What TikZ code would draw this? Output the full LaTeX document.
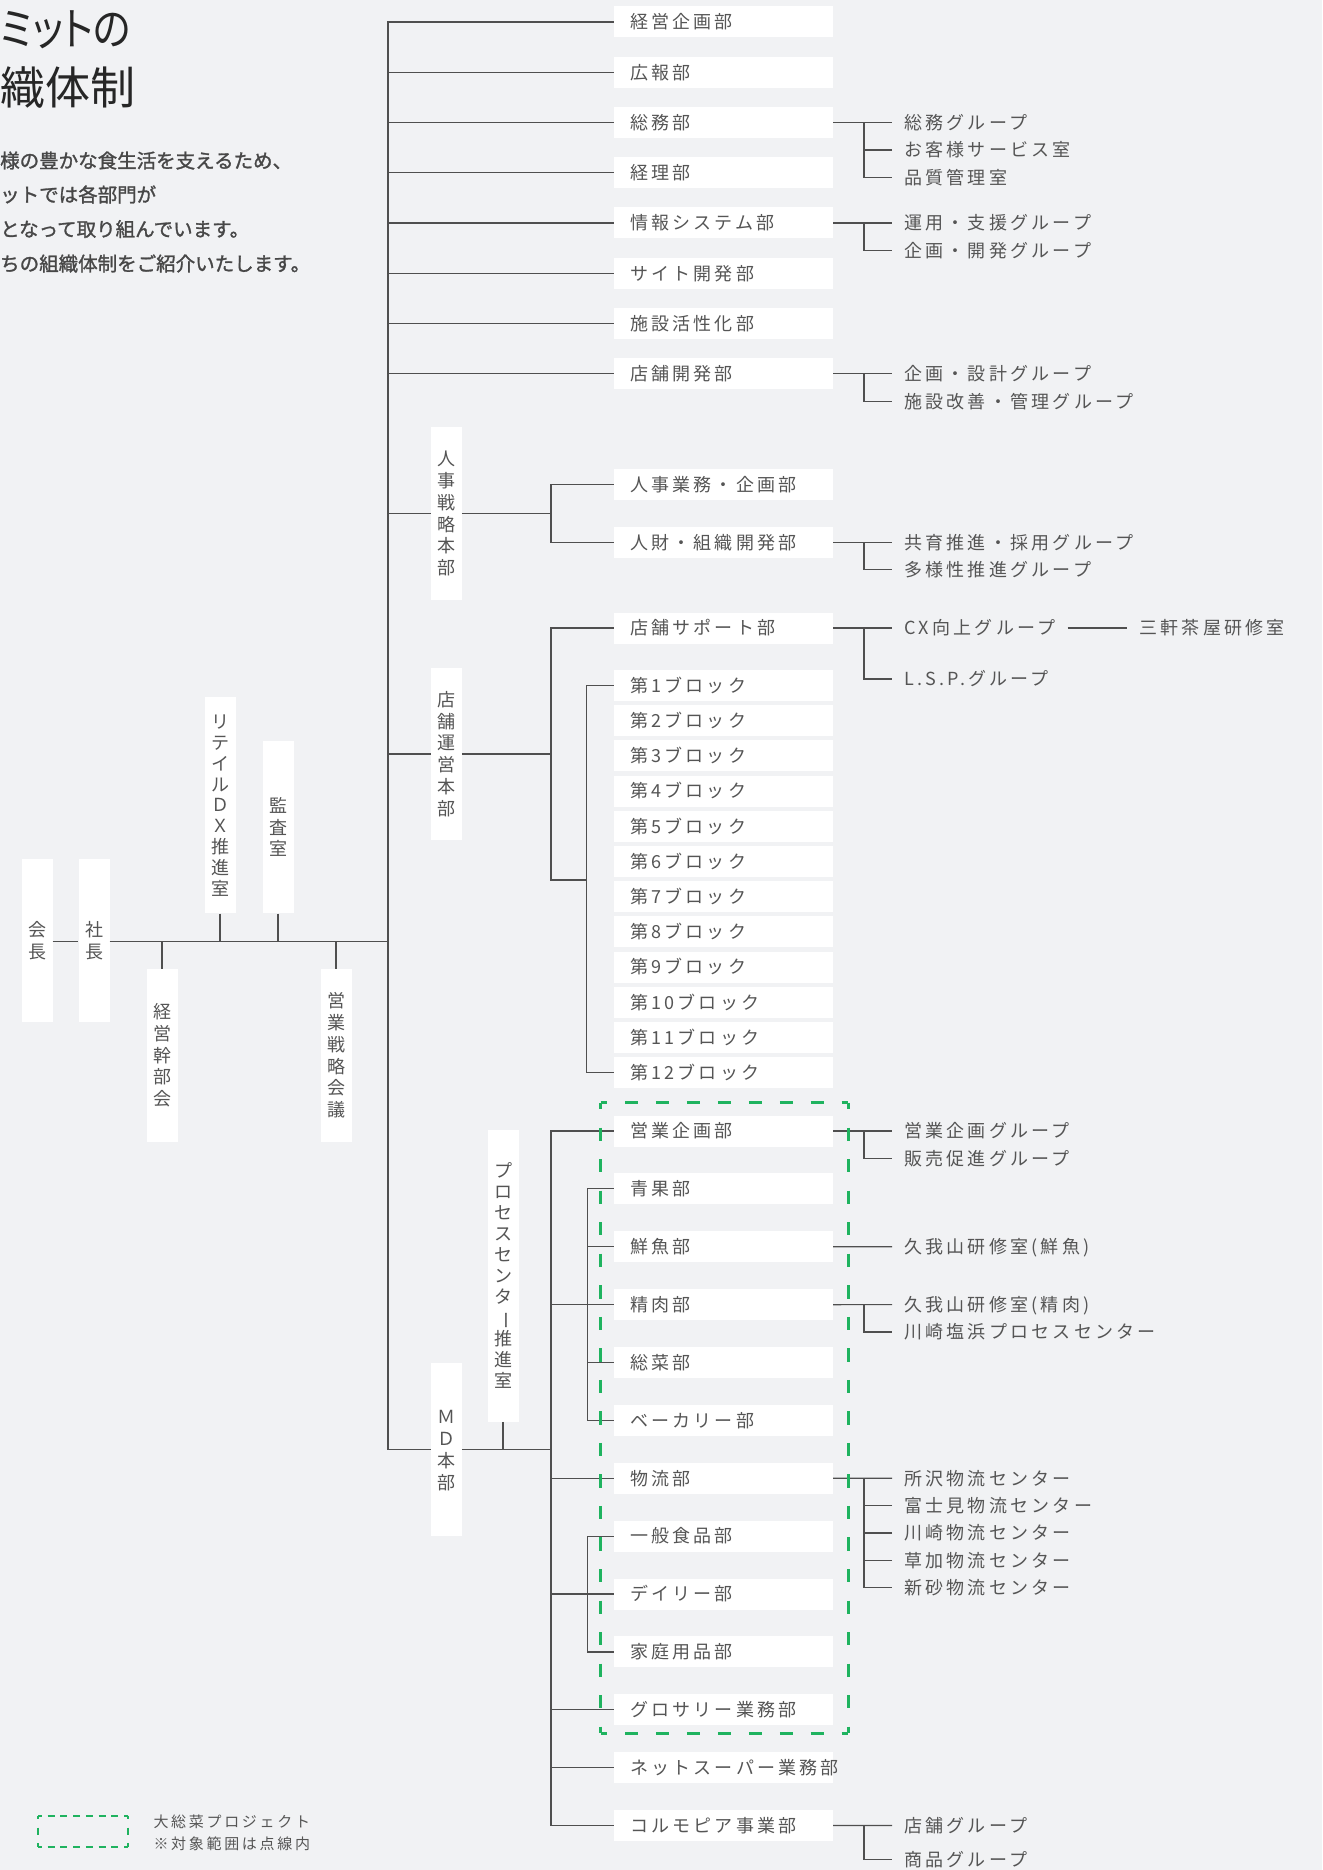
\documentclass[tikz,border=0pt]{standalone}
\usepackage{fontspec}
\usepackage{graphicx}
\newfontfamily\jp[LetterSpace=18]{Noto Sans CJK JP}
\newfontfamily\jpn{Noto Sans CJK JP}
\newfontfamily\jpm[FakeBold=1.4]{Noto Sans CJK JP}
\newfontfamily\jpt[RawFeature=+palt]{Noto Sans CJK JP}
\definecolor{bg}{HTML}{F1F2F4}
\definecolor{ln}{HTML}{4F4F4F}
\definecolor{tx}{HTML}{555555}
\definecolor{grn}{HTML}{1FB35F}
\newcommand\cs{\rule[-2.2pt]{0pt}{18pt}}
\newcommand\vbar{\rotatebox[origin=c]{-90}{ー}}
\tikzset{
  box/.style={fill=white, minimum width=219pt, minimum height=31pt, text width=187pt,
    inner xsep=16pt, inner ysep=0pt, align=left, font=\jp\fontsize{18}{21.5}\selectfont,
    text=tx, text height=15.8pt, text depth=2.2pt},
  vbox/.style={fill=white, minimum width=31pt, inner sep=0pt, align=center,
    font=\jpn\fontsize{18}{21.8}\selectfont, text=tx},
  sub/.style={anchor=west, inner xsep=12pt, inner ysep=0pt, font=\jp\fontsize{18}{21.5}\selectfont,
    text=tx, text height=15.8pt, text depth=2.2pt},
  conn/.style={draw=ln, line width=1.2pt},
  gh/.style={draw=grn, line width=2.6pt, dash pattern=on 13.3pt off 17.65pt, dash phase=6.65pt},
  gv/.style={draw=grn, line width=2.6pt, dash pattern=on 13.3pt off 18.23pt, dash phase=6.65pt},
  lh/.style={draw=grn, line width=2pt, dash pattern=on 7pt off 5.77pt, dash phase=3.5pt},
  lv/.style={draw=grn, line width=2pt, dash pattern=on 7pt off 8.5pt, dash phase=3.5pt},
  desc/.style={anchor=west, inner sep=0pt, font=\jpm\fontsize{19.5}{23}\selectfont,
    text=black!72, text height=17.2pt, text depth=2.3pt},
  ttl/.style={anchor=west, inner sep=0pt, font=\jpt\fontsize{45}{50}\selectfont,
    text=black!85, text height=39.6pt, text depth=5.4pt},
  leg/.style={anchor=west, inner sep=0pt, font=\jp\fontsize{15}{18}\selectfont,
    text=tx, text height=13.2pt, text depth=1.8pt}
}
\begin{document}
\begin{tikzpicture}[x=1pt,y=-1pt]
\fill[bg] (0,0) rectangle (1322,1870);
\useasboundingbox (0,0) rectangle (1322,1870);

% title and description
\node[ttl] (t1) at (0,28) {\scalebox{0.87}[1]{ミットの}};
\node[ttl] (t2) at (0,87.5) {織体制};
\node[desc] (d1) at (0,160.5) {様の豊かな食生活を支えるため、};
\node[desc] (d2) at (0,194.5) {ットでは各部門が};
\node[desc] (d3) at (0,229) {となって取り組んでいます。};
\node[desc] (d4) at (0,263.5) {ちの組織体制をご紹介いたします。};

% left vertical boxes
\node[vbox, minimum height=162.7pt] (kaicho) at (37,940.3) {\cs 会\\\cs 長};
\node[vbox, minimum height=162.7pt] (shacho) at (94,940.3) {\cs 社\\\cs 長};
\node[vbox, minimum height=216.6pt, font=\jpn\fontsize{18}{20.8}\selectfont] (retail) at (220,805)
  {\cs リ\\\cs テ\\\cs イ\\\cs ル\\\cs Ｄ\\\cs Ｘ\\\cs 推\\\cs 進\\\cs 室};
\node[vbox, minimum height=172.3pt] (kansa) at (278,827.2) {\cs 監\\\cs 査\\\cs 室};
\node[vbox, minimum height=172.7pt] (keiei) at (162,1055.3) {\cs 経\\\cs 営\\\cs 幹\\\cs 部\\\cs 会};
\node[vbox, minimum height=172.7pt] (eigyo) at (336,1055.3) {\cs 営\\\cs 業\\\cs 戦\\\cs 略\\\cs 会\\\cs 議};
\node[vbox, minimum height=173.3pt] (jhq) at (446.2,513.3) {\cs 人\\\cs 事\\\cs 戦\\\cs 略\\\cs 本\\\cs 部};
\node[vbox, minimum height=172.8pt] (thq) at (446.2,754) {\cs 店\\\cs 舗\\\cs 運\\\cs 営\\\cs 本\\\cs 部};
\node[vbox, minimum height=172.4pt] (mhq) at (446.2,1449.5) {\cs Ｍ\\\cs Ｄ\\\cs 本\\\cs 部};
\node[vbox, minimum height=291.7pt, font=\jpn\fontsize{18}{20.9}\selectfont] (proc) at (503,1275.8)
  {\cs プ\\\cs ロ\\\cs セ\\\cs ス\\\cs セ\\\cs ン\\\cs タ\\\cs \vbar\\\cs 推\\\cs 進\\\cs 室};

% main boxes
\node[box] (b1) at (723.5,22) {経営企画部};
\node[box] (b2) at (723.5,72.25) {広報部};
\node[box] (b3) at (723.5,122.5) {総務部};
\node[box] (b4) at (723.5,172.75) {経理部};
\node[box] (b5) at (723.5,223) {情報システム部};
\node[box] (b6) at (723.5,273.25) {サイト開発部};
\node[box] (b7) at (723.5,323.5) {施設活性化部};
\node[box] (b8) at (723.5,373.75) {店舗開発部};
\node[box] (j1) at (723.5,484.7) {人事業務・企画部};
\node[box] (j2) at (723.5,542.5) {人財・組織開発部};
\node[box] (ts) at (723.5,628) {店舗サポート部};
\foreach \i in {1,...,12}
  \node[box] (bl\i) at (723.5,{685.5+35.2*(\i-1)}) {第\i{}ブロック};
\foreach \k/\lbl in {0/営業企画部,1/青果部,2/鮮魚部,3/精肉部,4/総菜部,5/ベーカリー部,6/物流部,
   7/一般食品部,8/デイリー部,9/家庭用品部,10/グロサリー業務部,11/ネットスーパー業務部,12/コルモピア事業部}
  \node[box] (m\k) at (723.5,{1131+57.88*\k}) {\lbl};

% sub groups
\node[sub] (g1a) at (892,122.5) {総務グループ};
\node[sub] (g1b) at (892,150) {お客様サービス室};
\node[sub] (g1c) at (892,177.5) {品質管理室};
\node[sub] (g2a) at (892,223) {運用・支援グループ};
\node[sub] (g2b) at (892,250.7) {企画・開発グループ};
\node[sub] (g3a) at (892,373.75) {企画・設計グループ};
\node[sub] (g3b) at (892,401.3) {施設改善・管理グループ};
\node[sub] (g4a) at (892,542.5) {共育推進・採用グループ};
\node[sub] (g4b) at (892,569.8) {多様性推進グループ};
\node[sub] (g5a) at (892,628) {CX向上グループ};
\node[sub] (g5b) at (892,679) {L.S.P.グループ};
\node[sub] (g5c) at (1127.3,628) {三軒茶屋研修室};
\node[sub] (g6a) at (892,1131) {営業企画グループ};
\node[sub] (g6b) at (892,1158.5) {販売促進グループ};
\node[sub] (g7a) at (892,1246.8) {久我山研修室(鮮魚)};
\node[sub] (g8a) at (892,1304.6) {久我山研修室(精肉)};
\node[sub] (g8b) at (892,1332) {川崎塩浜プロセスセンター};
\node[sub] (g9a) at (892,1478.2) {所沢物流センター};
\node[sub] (g9b) at (892,1505.6) {富士見物流センター};
\node[sub] (g9c) at (892,1533) {川崎物流センター};
\node[sub] (g9d) at (892,1560.4) {草加物流センター};
\node[sub] (g9e) at (892,1587.8) {新砂物流センター};
\node[sub] (g10a) at (892,1825.5) {店舗グループ};
\node[sub] (g10b) at (892,1859.5) {商品グループ};

% coordinates
\coordinate (tr) at (388,941.3);
\coordinate (jx) at (551,513.3);
\coordinate (tA) at (551,880);
\coordinate (tB) at (586.7,880);
\coordinate (mA) at (551,1449.5);
\coordinate (sB) at (587.3,1131);
\coordinate (gx) at (864,0);

% top-level connectors
\draw[conn] (kaicho.east |- tr) -- (shacho.west |- tr);
\draw[conn] (shacho.east |- tr) -- (tr);
\draw[conn] (retail.south) -- (retail.south |- tr);
\draw[conn] (kansa.south) -- (kansa.south |- tr);
\draw[conn] (keiei.north) -- (keiei.north |- tr);
\draw[conn] (eigyo.north) -- (eigyo.north |- tr);
\draw[conn] (b1.west) -| (tr) |- (mhq.west);
\foreach \n in {b2,b3,b4,b5,b6,b7,b8,jhq,thq}
  \draw[conn] (\n.west) -- (\n.west -| tr);

% HR
\draw[conn] (jhq.east) -- (jx);
\draw[conn] (j1.west) -| (jx) |- (j2.west);
% stores
\draw[conn] (thq.east) -- (thq.east -| tA);
\draw[conn] (ts.west) -| (tA) -- (tB);
\draw[conn] (bl1.west) -| (tB) |- (bl12.west);
% MD
\draw[conn] (mhq.east) -- (mA);
\draw[conn] (proc.south) -- (proc.south |- mA);
\draw[conn] (m0.west) -| (mA) |- (m12.west);
\foreach \k in {3,6,8,10,11}
  \draw[conn] (m\k.west) -- (m\k.west -| mA);
\draw[conn] (m1.west) -- (m1.west -| sB) |- (m5.west);
\draw[conn] (m2.west) -- (m2.west -| sB);
\draw[conn] (m4.west) -- (m4.west -| sB);
\draw[conn] (m7.west) -- (m7.west -| sB) |- (m9.west);

% right side
\draw[conn] (b3.east) -- (g1a.west);
\draw[conn] (g1a.west -| gx) |- (g1c.west);
\draw[conn] (g1b.west) -- (g1b.west -| gx);
\draw[conn] (b5.east) -- (g2a.west);
\draw[conn] (g2a.west -| gx) |- (g2b.west);
\draw[conn] (b8.east) -- (g3a.west);
\draw[conn] (g3a.west -| gx) |- (g3b.west);
\draw[conn] (j2.east) -- (g4a.west);
\draw[conn] (g4a.west -| gx) |- (g4b.west);
\draw[conn] (ts.east) -- (g5a.west);
\draw[conn] (g5a.west -| gx) |- (g5b.west);
\draw[conn] (g5a.east) -- (g5c.west);
\draw[conn] (m0.east) -- (g6a.west);
\draw[conn] (g6a.west -| gx) |- (g6b.west);
\draw[conn] (m2.east) -- (g7a.west);
\draw[conn] (m3.east) -- (g8a.west);
\draw[conn] (g8a.west -| gx) |- (g8b.west);
\draw[conn] (m6.east) -- (g9a.west);
\draw[conn] (g9a.west -| gx) |- (g9e.west);
\foreach \n in {g9b,g9c,g9d}
  \draw[conn] (\n.west) -- (\n.west -| gx);
\draw[conn] (m12.east) -- (g10a.west);
\draw[conn] (g10a.west -| gx) |- (g10b.west);

% project dashed frame
\coordinate (pNW) at (600.7,1102.7);
\coordinate (pNE) at (848.3,1102.7);
\coordinate (pSW) at (600.7,1733.3);
\coordinate (pSE) at (848.3,1733.3);
\draw[gh] (pNW) -- (pNE);
\draw[gh] (pSW) -- (pSE);
\draw[gv] (pNW) -- (pSW);
\draw[gv] (pNE) -- (pSE);

% legend
\coordinate (lNW) at (38.3,1815.7);
\coordinate (lNE) at (127.7,1815.7);
\coordinate (lSW) at (38.3,1846.7);
\coordinate (lSE) at (127.7,1846.7);
\draw[lh] (lNW) -- (lNE);
\draw[lh] (lSW) -- (lSE);
\draw[lv] (lNW) -- (lSW);
\draw[lv] (lNE) -- (lSE);
\node[leg] (l1) at (153.3,1821.7) {大総菜プロジェクト};
\node[leg] (l2) at (153.3,1844) {※対象範囲は点線内};
\end{tikzpicture}
\end{document}
